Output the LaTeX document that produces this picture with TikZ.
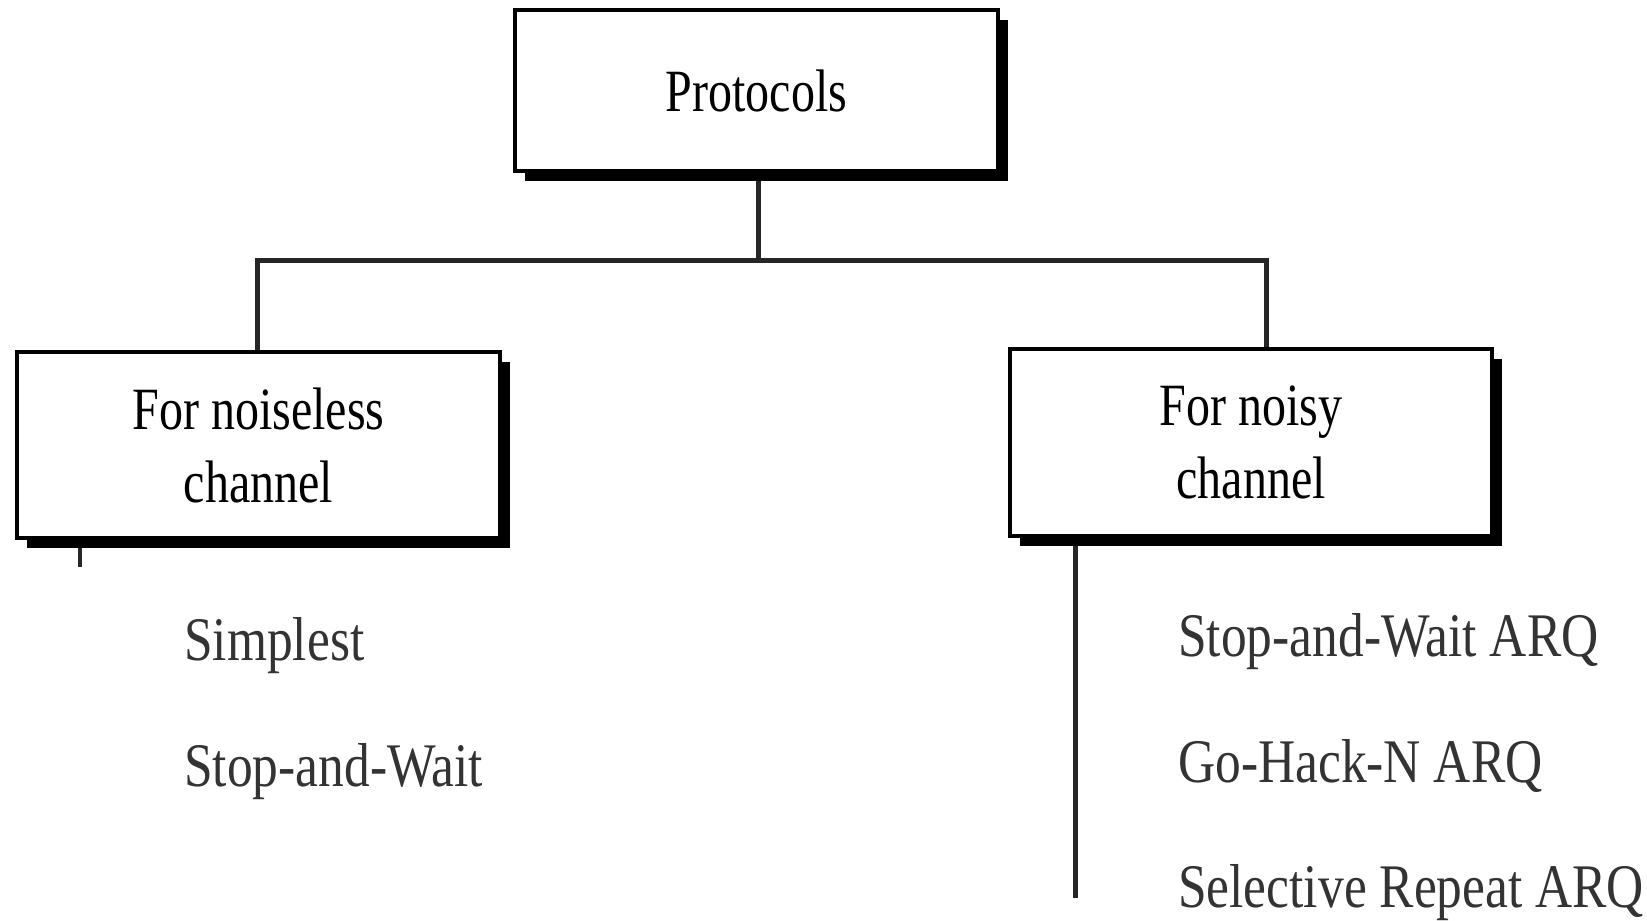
\documentclass[tikz,border=0pt]{standalone}
\usepackage{fontspec}
\newfontfamily\tf[FakeStretch=0.8]{Liberation Serif}
\newfontfamily\tfi[FakeStretch=0.83]{Liberation Serif}
\usetikzlibrary{shadows,backgrounds}
\begin{document}
\begin{tikzpicture}[x=1pt,y=-1pt,
  box/.style={draw=black, fill=white, line width=3.5pt, align=center,
    inner sep=0pt,
    font=\tf\fontsize{60}{73}\selectfont,
    drop shadow={shadow xshift=10pt, shadow yshift=-10pt, fill=black, opacity=1}},
  conn/.style={line width=5pt, draw=black!85},
  item/.style={anchor=base west, inner sep=0pt, text=black!80,
    font=\tfi\fontsize{62}{62}\selectfont}]
\useasboundingbox (0,0) rectangle (1647,921);

\node[box, minimum width=483pt, minimum height=161pt] (prot) at (756.5,90.5) {Protocols};
\node[box, minimum width=483pt, minimum height=186pt] (left) at (258.5,445) {For noiseless\\channel};
\node[box, minimum width=482pt, minimum height=187pt] (right) at (1251,442.5) {For noisy\\channel};

\coordinate (j) at (758,260);
\coordinate (hl) at (257,260);
\coordinate (hr) at (1266,260);
\coordinate (ls) at (80,567);
\coordinate (rb) at (1075,898);

\begin{scope}[on background layer]
\fill[white] (0,0) rectangle (1647,921);
\draw[conn] (prot.south -| j) -- (j);
\draw[conn] (left.north -| hl) -- (hl) -- (hr) -- (right.north -| hr);
\draw[conn, line width=3.5pt] (left.south -| ls) -- (ls);
\draw[conn] (right.south -| rb) -- (rb);
\end{scope}

\node[item] (s1) at (184,660) {Simplest};
\node[item] (s2) at (184,786) {Stop-and-Wait};
\node[item] (n1) at (1178,656) {Stop-and-Wait ARQ};
\node[item] (n2) at (1178,782) {Go-Hack-N ARQ};
\node[item] (n3) at (1178,907) {Selective Repeat ARQ};
\end{tikzpicture}
\end{document}
